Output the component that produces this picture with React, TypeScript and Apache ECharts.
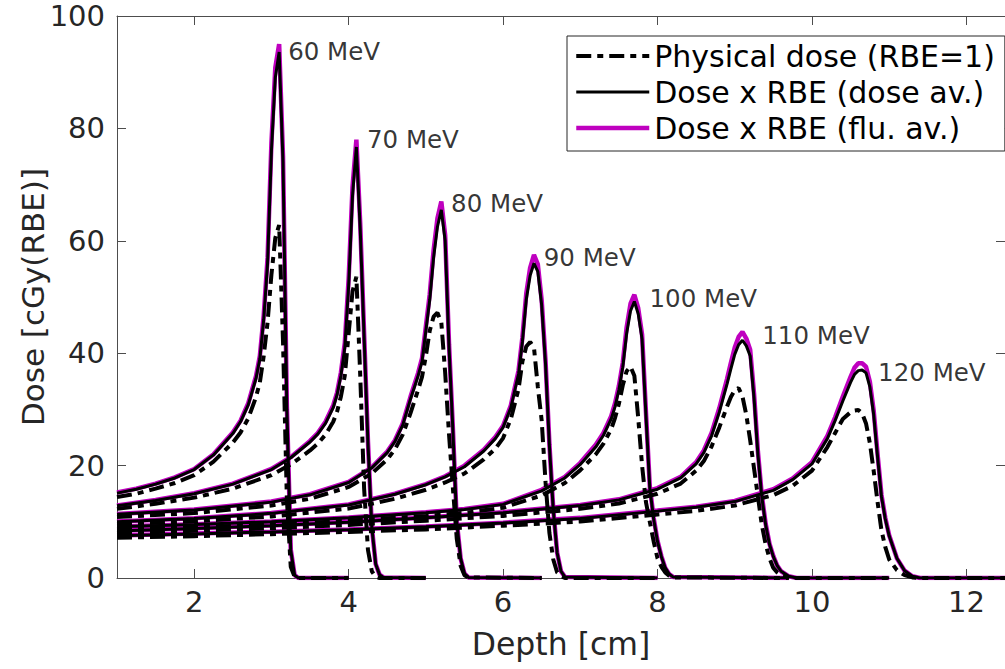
import React, { useEffect, useRef } from "react";
import * as echarts from "echarts";

// ---------- data ----------
const energyLabels = ["60 MeV", "70 MeV", "80 MeV", "90 MeV", "100 MeV", "110 MeV", "120 MeV"];
const seriesNames = ["Physical dose (RBE=1)", "Dose x RBE (dose av.)", "Dose x RBE (flu. av.)"];
const xTickValues = [2, 4, 6, 8, 10, 12];
const yTickValues = [0, 20, 40, 60, 80, 100];
const xAxisTitle = "Depth [cm]";
const yAxisTitle = "Dose [cGy(RBE)]";

const depth60 = [1.0, 1.25, 1.5, 1.75, 2.0, 2.25, 2.5, 2.6, 2.7, 2.8, 2.85, 2.9, 2.95, 3.0, 3.05, 3.1, 3.15, 3.2, 3.25, 3.3, 3.35, 4.0];
const dose60 = [15.1, 15.8, 16.7, 17.8, 19.3, 21.9, 25.7, 27.8, 30.8, 35.5, 39.0, 46.0, 56.0, 76.0, 89.0, 93.6, 74.0, 30.0, 5.0, 0.5, 0.0, 0.0];
const flu60 = [15.2, 15.9, 16.8, 17.9, 19.4, 22.0, 25.9, 28.0, 31.1, 35.9, 39.5, 46.7, 57.0, 77.5, 90.8, 95.0, 75.0, 30.5, 5.1, 0.5, 0.0, 0.0];
const phys60 = [14.4, 15.0, 15.9, 16.9, 18.3, 20.7, 24.1, 25.9, 28.4, 32.2, 34.8, 39.5, 45.5, 54.0, 60.5, 62.8, 42.0, 14.0, 2.0, 0.2, 0.0, 0.0];

const depth70 = [1.0, 1.5, 2.0, 2.5, 3.0, 3.25, 3.5, 3.6, 3.7, 3.8, 3.85, 3.9, 3.95, 4.0, 4.05, 4.1, 4.15, 4.2, 4.25, 4.3, 4.35, 4.4, 4.45, 5.0];
const dose70 = [12.85, 13.8, 15.0, 16.7, 19.3, 21.4, 24.2, 25.6, 27.5, 30.3, 32.6, 36.0, 41.0, 52.0, 68.0, 76.7, 62.0, 43.0, 24.0, 9.0, 2.5, 0.6, 0.1, 0.0];
const flu70 = [12.9, 13.9, 15.1, 16.8, 19.4, 21.5, 24.4, 25.8, 27.8, 30.7, 33.0, 36.6, 41.8, 53.3, 69.6, 78.0, 63.0, 43.6, 24.3, 9.1, 2.5, 0.6, 0.1, 0.0];
const phys70 = [12.3, 13.2, 14.3, 15.9, 18.3, 20.2, 22.7, 23.9, 25.5, 27.8, 29.6, 32.3, 36.0, 43.5, 51.0, 53.6, 36.0, 16.0, 5.0, 1.2, 0.2, 0.0, 0.0, 0.0];

const depth80 = [1.0, 2.0, 3.0, 3.5, 4.0, 4.3, 4.5, 4.6, 4.7, 4.8, 4.9, 4.95, 5.0, 5.05, 5.1, 5.15, 5.2, 5.25, 5.3, 5.35, 5.4, 5.45, 5.5, 5.55, 6.5];
const dose80 = [11.35, 12.1, 13.5, 14.8, 17.0, 19.6, 22.3, 24.3, 27.2, 31.8, 36.0, 38.5, 44.0, 49.5, 57.0, 62.5, 65.5, 60.0, 41.0, 26.3, 10.0, 3.5, 0.8, 0.1, 0.0];
const flu80 = [11.4, 12.2, 13.6, 14.9, 17.1, 19.7, 22.5, 24.5, 27.5, 32.2, 36.5, 39.1, 44.8, 50.5, 58.3, 64.0, 67.0, 61.0, 41.6, 26.6, 10.1, 3.5, 0.8, 0.1, 0.0];
const phys80 = [10.85, 11.55, 12.9, 14.1, 16.2, 18.6, 21.1, 22.9, 25.5, 29.3, 33.5, 35.8, 39.5, 44.0, 46.5, 47.2, 45.5, 36.5, 25.5, 16.0, 7.0, 2.2, 0.5, 0.1, 0.0];

const depth90 = [1.0, 2.0, 3.0, 4.0, 4.6, 5.0, 5.25, 5.5, 5.75, 5.9, 6.0, 6.1, 6.2, 6.25, 6.3, 6.35, 6.4, 6.45, 6.5, 6.55, 6.6, 6.65, 6.7, 6.75, 6.8, 8.0];
const dose90 = [10.0, 10.6, 11.5, 13.0, 14.9, 16.6, 18.0, 19.8, 22.6, 24.8, 26.8, 30.3, 36.3, 42.0, 49.5, 53.8, 56.0, 54.5, 48.5, 38.0, 23.5, 12.1, 4.5, 1.2, 0.2, 0.0];
const flu90 = [10.05, 10.65, 11.55, 13.1, 15.0, 16.7, 18.1, 20.0, 22.8, 25.1, 27.1, 30.7, 36.9, 42.8, 50.6, 55.2, 57.5, 55.8, 49.4, 38.6, 23.8, 12.2, 4.5, 1.2, 0.2, 0.0];
const phys90 = [9.55, 10.1, 10.95, 12.35, 14.1, 15.7, 17.0, 18.6, 21.1, 23.0, 24.9, 28.3, 33.6, 38.5, 41.2, 42.0, 41.0, 34.0, 28.0, 17.0, 8.0, 3.3, 1.0, 0.3, 0.0, 0.0];

const depth100 = [1.0, 2.0, 3.0, 4.0, 5.0, 5.5, 6.0, 6.5, 6.8, 7.0, 7.2, 7.3, 7.4, 7.45, 7.5, 7.55, 7.6, 7.65, 7.7, 7.75, 7.8, 7.85, 7.9, 7.95, 8.0, 8.05, 8.1, 8.15, 8.2, 9.7];
const dose100 = [9.1, 9.5, 10.0, 10.7, 11.6, 12.2, 13.1, 15.5, 17.8, 20.2, 23.3, 25.4, 28.3, 30.5, 33.5, 37.5, 43.5, 47.5, 49.2, 47.0, 42.5, 29.0, 16.0, 10.5, 6.5, 3.8, 1.8, 0.7, 0.2, 0.0];
const flu100 = [9.15, 9.55, 10.05, 10.75, 11.7, 12.3, 13.2, 15.7, 18.0, 20.5, 23.7, 25.8, 28.8, 31.1, 34.2, 38.3, 44.6, 48.8, 50.4, 48.0, 43.3, 29.5, 16.3, 10.7, 6.6, 3.9, 1.8, 0.7, 0.2, 0.0];
const phys100 = [8.7, 9.05, 9.5, 10.2, 11.05, 11.6, 12.5, 14.7, 16.9, 19.2, 22.0, 23.9, 26.5, 28.5, 31.0, 34.3, 36.8, 37.6, 36.0, 28.5, 20.0, 13.5, 10.0, 6.5, 3.5, 2.0, 1.0, 0.4, 0.1, 0.0];

const depth110 = [1.0, 2.0, 3.0, 4.0, 5.0, 6.0, 7.0, 7.5, 8.0, 8.3, 8.5, 8.6, 8.7, 8.8, 8.9, 8.95, 9.0, 9.05, 9.1, 9.15, 9.2, 9.25, 9.3, 9.35, 9.4, 9.45, 9.5, 9.55, 9.6, 9.7, 9.8, 11.0];
const dose110 = [8.35, 8.8, 9.3, 9.9, 10.7, 11.6, 12.9, 13.9, 15.8, 17.8, 20.3, 22.3, 25.3, 29.5, 34.5, 37.2, 39.8, 41.5, 42.3, 41.3, 39.5, 32.0, 22.0, 14.5, 9.5, 6.0, 3.8, 2.2, 1.2, 0.3, 0.0, 0.0];
const flu110 = [8.4, 8.85, 9.35, 9.95, 10.75, 11.7, 13.0, 14.0, 16.0, 18.0, 20.6, 22.7, 25.8, 30.2, 35.4, 38.3, 41.0, 42.9, 43.8, 42.6, 40.6, 32.8, 22.5, 14.8, 9.7, 6.1, 3.9, 2.2, 1.2, 0.3, 0.0, 0.0];
const phys110 = [7.95, 8.4, 8.85, 9.45, 10.2, 11.05, 12.3, 13.25, 15.0, 16.8, 19.1, 20.8, 23.4, 26.8, 30.5, 32.2, 33.4, 33.8, 32.3, 29.0, 24.5, 19.5, 14.5, 9.5, 6.0, 3.5, 1.8, 1.0, 0.5, 0.1, 0.0, 0.0];

const depth120 = [1.0, 2.0, 3.0, 4.0, 5.0, 6.0, 7.0, 8.0, 8.5, 9.0, 9.5, 9.75, 10.0, 10.2, 10.3, 10.4, 10.5, 10.55, 10.6, 10.65, 10.7, 10.75, 10.8, 10.85, 10.9, 10.95, 11.0, 11.1, 11.2, 11.3, 11.4, 12.6];
const dose120 = [7.5, 7.85, 8.2, 8.6, 9.1, 9.8, 10.6, 11.9, 12.6, 13.6, 15.6, 17.5, 20.3, 24.8, 28.0, 31.5, 34.8, 36.2, 36.9, 37.0, 36.5, 34.0, 29.0, 21.5, 14.5, 10.5, 7.5, 3.5, 1.3, 0.3, 0.0, 0.0];
const flu120 = [7.55, 7.9, 8.25, 8.65, 9.15, 9.85, 10.7, 12.0, 12.7, 13.7, 15.8, 17.7, 20.6, 25.3, 28.6, 32.3, 35.8, 37.4, 38.2, 38.2, 37.6, 34.9, 29.7, 22.0, 14.8, 10.7, 7.6, 3.5, 1.3, 0.3, 0.0, 0.0];
const phys120 = [7.15, 7.45, 7.8, 8.2, 8.65, 9.3, 10.05, 11.3, 11.95, 12.9, 14.75, 16.4, 19.1, 23.3, 25.8, 28.3, 29.5, 29.8, 29.9, 29.3, 27.5, 24.0, 19.0, 13.5, 8.5, 5.5, 3.3, 1.4, 0.5, 0.1, 0.0, 0.0];

// label anchors (data coordinates) for the energy annotations
const labelDepth = [3.21, 4.23, 5.32, 6.52, 7.89, 9.35, 10.85];
const labelDose = [93.6, 78.1, 66.7, 57.1, 49.8, 43.1, 36.5];

const depths = [depth60, depth70, depth80, depth90, depth100, depth110, depth120];
const doseAv = [dose60, dose70, dose80, dose90, dose100, dose110, dose120];
const fluAv = [flu60, flu70, flu80, flu90, flu100, flu110, flu120];
const physical = [phys60, phys70, phys80, phys90, phys100, phys110, phys120];

// ---------- styles ----------
const FONT = "DejaVu Sans";
const AXIS_COLOR = "#4d4d4d";
const TEXT_COLOR = "#262626";
const MAGENTA = "#bf00bf";

function pairs(xs: number[], ys: number[]) {
  return xs.map((x, i) => [x, ys[i]]);
}

function buildOption() {
  const series: any[] = [];
  depths.forEach((xs, k) => {
    series.push({
      type: "line",
      name: seriesNames[2],
      data: pairs(xs, fluAv[k]),
      symbol: "none",
      lineStyle: { color: MAGENTA, width: 4.5 },
      itemStyle: { color: MAGENTA },
      z: 2,
      silent: true,
    });
  });
  depths.forEach((xs, k) => {
    series.push({
      type: "line",
      name: seriesNames[1],
      data: pairs(xs, doseAv[k]),
      symbol: "none",
      lineStyle: { color: "#000", width: 3 },
      itemStyle: { color: "#000" },
      z: 3,
      silent: true,
    });
  });
  depths.forEach((xs, k) => {
    series.push({
      type: "line",
      name: seriesNames[0],
      data: pairs(xs, physical[k]),
      symbol: "none",
      lineStyle: { color: "#000", width: 4, type: [15, 6, 6, 6], cap: "butt" },
      itemStyle: { color: "#000" },
      z: 4,
      silent: true,
    });
  });
  series.push({
    type: "scatter",
    name: "labels",
    data: labelDepth.map((x, i) => ({ value: [x, labelDose[i]], name: energyLabels[i] })),
    symbol: "circle",
    symbolSize: 1,
    itemStyle: { color: "rgba(0,0,0,0)" },
    silent: true,
    z: 5,
    label: {
      show: true,
      position: "right",
      distance: 0,
      formatter: "{b}",
      fontFamily: FONT,
      fontSize: 24.5,
      color: "#000",
      verticalAlign: "middle",
    },
  });

  const tickFmt = (v: number) => (xTickValues.indexOf(v) >= 0 ? String(v) : "");

  return {
    animation: false,
    backgroundColor: "#fff",
    textStyle: { fontFamily: FONT },
    grid: { left: 117, top: 16, width: 893.6, height: 562, containLabel: false },
    graphic: [
      {
        type: "text",
        x: 33,
        y: 297,
        rotation: Math.PI / 2,
        silent: true,
        style: {
          text: yAxisTitle,
          fill: TEXT_COLOR,
          font: `31px "${FONT}"`,
          textAlign: "center",
          textVerticalAlign: "middle",
        },
      },
    ],
    legend: {
      orient: "vertical",
      left: 567,
      top: 36,
      data: seriesNames.map((n) => ({ name: n })),
      itemWidth: 73,
      itemHeight: 27,
      itemGap: 6,
      padding: [5, 10, 8, 7],
      borderColor: "#262626",
      borderWidth: 1,
      borderRadius: 0,
      backgroundColor: "#fff",
      selectedMode: false,
      itemStyle: { opacity: 0 },
      lineStyle: { width: "inherit" },
      textStyle: { fontSize: 30, color: "#000", fontFamily: FONT },
    },
    xAxis: [
      {
        type: "value",
        min: 1,
        max: 12.5,
        minInterval: 2,
        maxInterval: 2,
        position: "bottom",
        name: xAxisTitle,
        nameLocation: "middle",
        nameGap: 50,
        nameTextStyle: { fontSize: 31.5, color: TEXT_COLOR, fontFamily: FONT },
        axisLine: { show: true, onZero: false, lineStyle: { color: AXIS_COLOR, width: 1 } },
        axisTick: { show: true, inside: true, length: 9, lineStyle: { color: AXIS_COLOR, width: 1 } },
        axisLabel: {
          fontSize: 29,
          color: TEXT_COLOR,
          margin: 9,
          fontFamily: FONT,
          showMinLabel: false,
          showMaxLabel: false,
          formatter: tickFmt,
        },
        splitLine: { show: false },
      },
      {
        type: "value",
        min: 1,
        max: 12.5,
        minInterval: 2,
        maxInterval: 2,
        position: "top",
        axisLine: { show: true, onZero: false, lineStyle: { color: AXIS_COLOR, width: 1 } },
        axisTick: { show: true, inside: true, length: 9, lineStyle: { color: AXIS_COLOR, width: 1 } },
        axisLabel: { show: false },
        splitLine: { show: false },
      },
    ],
    yAxis: [
      {
        type: "value",
        min: yTickValues[0],
        max: yTickValues[yTickValues.length - 1],
        interval: 20,
        position: "left",
        axisLine: { show: true, onZero: false, lineStyle: { color: AXIS_COLOR, width: 1 } },
        axisTick: { show: true, inside: true, length: 9, lineStyle: { color: AXIS_COLOR, width: 1 } },
        axisLabel: { fontSize: 29, color: TEXT_COLOR, margin: 12, fontFamily: FONT },
        splitLine: { show: false },
      },
      {
        type: "value",
        min: yTickValues[0],
        max: yTickValues[yTickValues.length - 1],
        interval: 20,
        position: "right",
        axisLine: { show: true, onZero: false, lineStyle: { color: AXIS_COLOR, width: 1 } },
        axisTick: { show: true, inside: true, length: 9, lineStyle: { color: AXIS_COLOR, width: 1 } },
        axisLabel: { show: false },
        splitLine: { show: false },
      },
    ],
    series,
  };
}

export default function App() {
  const ref = useRef<HTMLDivElement>(null);
  useEffect(() => {
    if (!ref.current) return;
    const chart = echarts.init(ref.current, undefined, { renderer: "svg" });
    chart.setOption(buildOption() as any);
    return () => chart.dispose();
  }, []);
  return (
    <div
      ref={ref}
      style={{ position: "absolute", left: 0, top: 0, width: 1005, height: 669, background: "#fff" }}
    />
  );
}
